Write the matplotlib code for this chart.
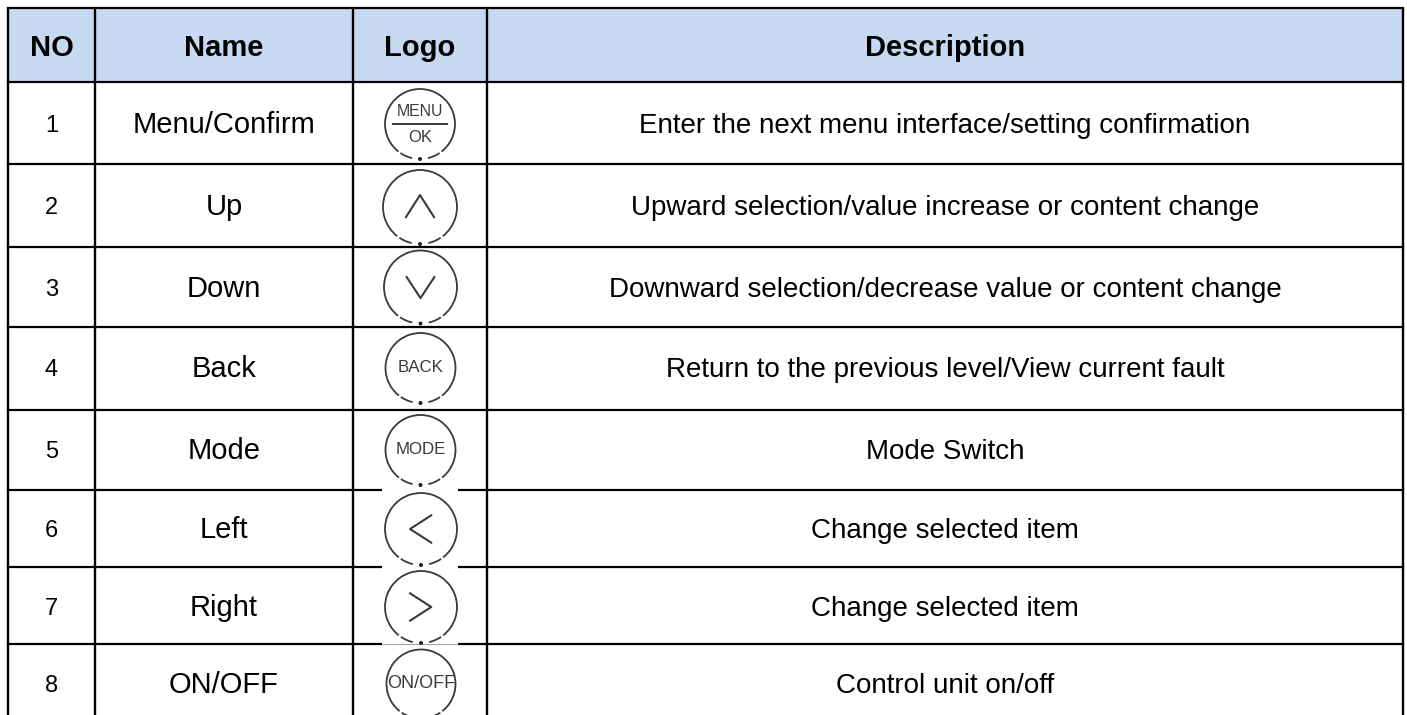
"""Button table: number, name, logo and description per row, in pixel coordinates."""
import matplotlib; matplotlib.use("Agg")
import matplotlib.pyplot as plt
from matplotlib.patches import Arc, Circle, Rectangle

plt.rcParams["font.family"] = ["Liberation Sans", "DejaVu Sans"]

HEADERS = ["NO", "Name", "Logo", "Description"]
NOS = ["1", "2", "3", "4", "5", "6", "7", "8"]
NAMES = ["Menu/Confirm", "Up", "Down", "Back", "Mode", "Left", "Right", "ON/OFF"]
DESCRIPTIONS = ["Enter the next menu interface/setting confirmation",
                "Upward selection/value increase or content change",
                "Downward selection/decrease value or content change",
                "Return to the previous level/View current fault",
                "Mode Switch", "Change selected item", "Change selected item",
                "Control unit on/off"]
LOGOS = ["menu", "up", "down", "BACK", "MODE", "left", "right", "ON/OFF"]

# layout, px
COLS = [8, 95, 353, 487, 1403]
ROWS = [8, 81.5, 163.5, 246.5, 326.5, 410, 490, 566.5, 644, 715]
BASELINES = [133, 215, 297, 377, 459, 538, 616, 693]
LOGO_X = [420, 420, 420.5, 420.5, 420.5, 421, 421, 421]
LOGO_Y = [124, 207, 287, 368, 450, 529, 607, 684]
LOGO_R = [35, 37, 36.5, 35, 35, 36, 36, 34.5]
INK = "#3a3a3a"

fig = plt.figure(figsize=(14.07, 7.15), dpi=100)
ax = fig.add_axes([0, 0, 1, 1])
ax.set_xlim(0, 1407); ax.set_ylim(715, 0); ax.axis("off")


def draw_logo(ax, kind, x, y, r):
    # ring with a gap at the bottom, short dashes either side of the dot
    for a, b in [(128, 52), (103, 124), (56, 77)]:
        ax.add_patch(Arc((x, y), 2 * r, 2 * r, theta1=a, theta2=b, color=INK, lw=1.3, zorder=3))
    ax.add_patch(Circle((x, y + r), 2, color="#222222", lw=0, zorder=3))
    c = 0.38 * r
    if kind == "up":
        ax.plot([x - c, x, x + c], [y + 0.72 * c, y - 0.85 * c, y + 0.72 * c], color=INK, lw=1.5, zorder=3)
    elif kind == "down":
        ax.plot([x - c, x, x + c], [y - 0.72 * c, y + 0.8 * c, y - 0.72 * c], color=INK, lw=1.5, zorder=3)
    elif kind == "left":
        ax.plot([x + 0.75 * c, x - 0.8 * c, x + 0.75 * c], [y - c, y, y + c], color=INK, lw=1.5, zorder=3)
    elif kind == "right":
        ax.plot([x - 0.8 * c, x + 0.75 * c, x - 0.8 * c], [y - c, y, y + c], color=INK, lw=1.5, zorder=3)
    elif kind == "menu":
        ax.plot([x - 0.77 * r, x + 0.77 * r], [y, y], color=INK, lw=1.4, zorder=3)
        ax.text(x, y - 12, "MENU", ha="center", va="center", fontsize=11.4, color=INK, zorder=3)
        ax.text(x, y + 14, "OK", ha="center", va="center", fontsize=12, color=INK, zorder=3)
    else:
        size = 13 if kind == "ON/OFF" else 12.2
        ax.text(x, y, kind, ha="center", va="center", fontsize=size, color=INK, zorder=3)


ax.add_patch(Rectangle((COLS[0], ROWS[0]), COLS[-1] - COLS[0], ROWS[1] - ROWS[0], color="#C6D9F1", lw=0))
for x in COLS:
    ax.plot([x, x], [ROWS[0], ROWS[-1]], color="black", lw=1.7, solid_capstyle="butt", zorder=1)
for y in ROWS[:-1]:
    ax.plot([COLS[0], COLS[-1]], [y, y], color="black", lw=1.6, solid_capstyle="projecting", zorder=1)
# the last three logos were pasted in with a white background over the rules
for y in ROWS[6:9]:
    ax.add_patch(Rectangle((382, y - 2), 76, 4, color="white", lw=0, zorder=2))
ax.plot([382, 458], [644, 644], color="#777777", lw=0.5, zorder=2)

for j, h in enumerate(HEADERS):
    ax.text((COLS[j] + COLS[j + 1]) / 2, 55.5, h, ha="center", va="baseline",
            fontsize=21, fontweight="bold", color="black")
for i in range(len(NOS)):
    yb = BASELINES[i]
    ax.text((COLS[0] + COLS[1]) / 2, yb - 1, NOS[i], ha="center", va="baseline", fontsize=17, color="black")
    ax.text((COLS[1] + COLS[2]) / 2, yb, NAMES[i], ha="center", va="baseline", fontsize=21, color="black")
    ax.text((COLS[3] + COLS[4]) / 2, yb, DESCRIPTIONS[i], ha="center", va="baseline", fontsize=20, color="black")
    draw_logo(ax, LOGOS[i], LOGO_X[i], LOGO_Y[i], LOGO_R[i])

fig.savefig("out.png", dpi=100); plt.close(fig)
